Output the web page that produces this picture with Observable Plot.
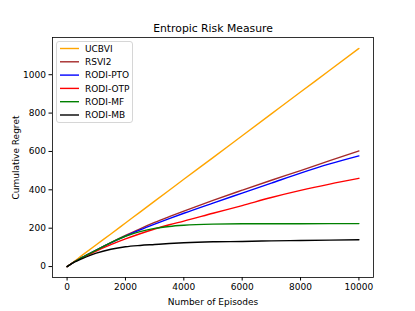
<!DOCTYPE html>
<html>
<head>
<meta charset="utf-8">
<script src="https://cdn.jsdelivr.net/npm/d3@7"></script>
<script src="https://cdn.jsdelivr.net/npm/@observablehq/plot@0.6"></script>
<style>
  html, body { margin: 0; padding: 0; background: #fff; }
  #wrap { position: relative; width: 415px; height: 311px; font-family: "DejaVu Sans", sans-serif; }
  #legend { position: absolute; left: 55px; top: 40px; }
</style>
</head>
<body>
<div id="wrap"><svg id="legend" width="80" height="85"></svg></div>
<script>
const title = "Entropic Risk Measure";
const xLabel = "Number of Episodes";
const yLabel = "Cumulative Regret";
const seriesNames = ["UCBVI", "RSVI2", "RODI-PTO", "RODI-OTP", "RODI-MF", "RODI-MB"];
const seriesColors = ["orange", "brown", "blue", "red", "green", "black"];
const xTicks = [0, 2000, 4000, 6000, 8000, 10000];
const yTicks = [0, 200, 400, 600, 800, 1000];

const episodes = [0, 250, 500, 1000, 1500, 2000, 2500, 3000, 3500, 4000, 5000, 6000, 7000, 8000, 9000, 10000];
const ucbvi   = [0, 28, 57, 114, 170, 227, 284, 341, 398, 455, 568, 682, 796, 910, 1023, 1137];
const rsvi2   = [0, 25, 46, 86, 125, 162, 197, 230, 260, 289, 345, 398, 450, 500, 552, 603];
const rodiPTO = [0, 25, 46, 86, 124, 159, 191, 221, 250, 278, 331, 383, 435, 487, 535, 577];
const rodiOTP = [0, 25, 44, 81, 114, 144, 171, 196, 218, 237, 278, 318, 360, 397, 430, 460];
const rodiMF  = [0, 25, 46, 86, 125, 158, 182, 199, 209, 215, 221, 223, 223, 223, 224, 224];
const rodiMB  = [0, 23, 40, 70, 90, 103, 110, 115, 120, 124, 129, 131, 134, 136, 138, 140];

const seriesValues = [ucbvi, rsvi2, rodiPTO, rodiOTP, rodiMF, rodiMB];
const rows = [];
seriesNames.forEach((name, i) => {
  episodes.forEach((e, j) => rows.push({series: name, episode: e, regret: seriesValues[i][j]}));
});

const font = "DejaVu Sans, sans-serif";
const chart = Plot.plot({
  width: 415,
  height: 311,
  marginLeft: 52,
  marginRight: 42,
  marginTop: 37,
  marginBottom: 34,
  style: {fontFamily: font, fontSize: "9px", color: "#000", background: "#fff", overflow: "visible"},
  x: {domain: [-500, 10500]},
  y: {domain: [-57, 1194]},
  color: {domain: seriesNames, range: seriesColors},
  marks: [
    Plot.axisX({ticks: xTicks, tickSize: 3.5, tickPadding: 3, tickFormat: d => String(d), label: xLabel,
      labelAnchor: "center", labelArrow: "none", labelOffset: 27, fontSize: 9}),
    Plot.axisY({ticks: yTicks, tickSize: 3.5, tickPadding: 3, tickFormat: d => String(d), label: yLabel,
      labelAnchor: "center", labelArrow: "none", labelOffset: 40, fontSize: 9}),
    ...seriesNames.map(name => Plot.line(rows.filter(r => r.series === name), {
      x: "episode", y: "regret", stroke: "series", strokeWidth: 1.4, curve: "monotone-x"
    })),
    Plot.frame({stroke: "#000", strokeWidth: 0.8}),
    Plot.text([title], {frameAnchor: "top", dy: -9, fontSize: 10.8, lineAnchor: "middle", fill: "#000"})
  ]
});
const wrap = document.getElementById("wrap");
wrap.insertBefore(chart, wrap.firstChild);

const leg = d3.select("#legend");
leg.append("rect").attr("x", 1.5).attr("y", 1.5).attr("width", 76).attr("height", 81)
  .attr("rx", 2.5).attr("fill", "rgba(255,255,255,0.8)").attr("stroke", "#cccccc").attr("stroke-width", 0.8);
const items = leg.selectAll("g.item").data(seriesNames).join("g")
  .attr("class", "item")
  .attr("transform", (d, i) => `translate(0, ${8.5 + i * 13.3})`);
items.append("line").attr("x1", 5).attr("x2", 24).attr("y1", 0).attr("y2", 0)
  .attr("stroke", (d, i) => seriesColors[i]).attr("stroke-width", 1.4);
items.append("text").attr("x", 30).attr("y", 0).attr("dy", "0.35em")
  .attr("font-family", font).attr("font-size", 9).attr("fill", "#000").text(d => d);
</script>
</body>
</html>
